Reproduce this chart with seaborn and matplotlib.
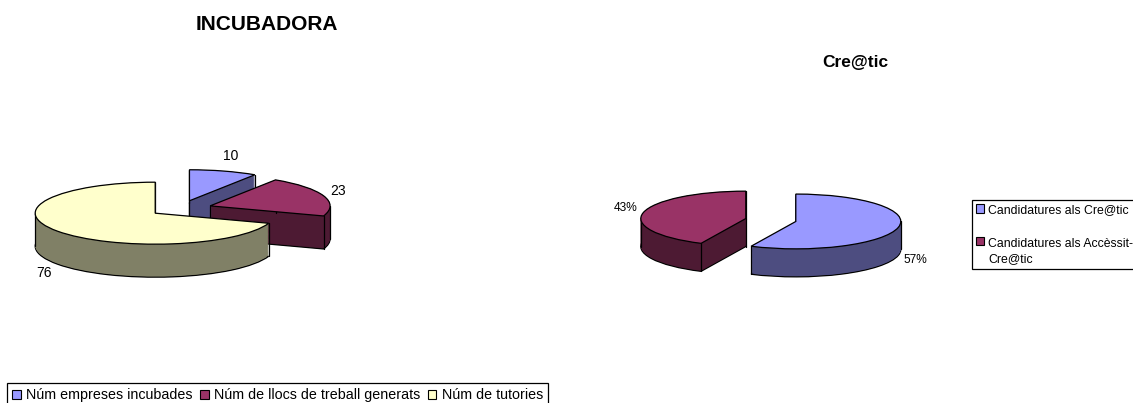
# -*- coding: utf-8 -*-
import matplotlib
matplotlib.use("Agg")
import matplotlib.pyplot as plt
import numpy as np
import seaborn as sns
from matplotlib.patches import Patch

incub_labels = ["Núm empreses incubades", "Núm de llocs de treball generats", "Núm de tutories"]
incub_values = [10, 23, 76]
cretic_labels = ["Candidatures als Cre@tic", "Candidatures als Accèssit-\nCre@tic"]
cretic_values = [57, 43]

top_colors = ["#9999FF", "#993366", "#FFFFCC"]
side_colors = ["#4D4D80", "#4D1A33", "#808066"]

W, H = 1133, 403

sns.set_theme(style="white")
plt.rcParams["font.family"] = ["Liberation Sans", "DejaVu Sans"]

fig = plt.figure(figsize=(W / 100, H / 100), dpi=100)


def pie_axes(cx, cy, rx, ry):
    # axes over the whole figure, one data unit = one pie radius
    ax = fig.add_axes([0, 0, 1, 1], facecolor="none")
    ax.lims = ((0 - cx) / rx, (W - cx) / rx), ((cy - H) / ry, cy / ry)
    return ax


def pie_3d(ax, values, explode, depth):
    # stacked pies going down, painted back to front
    n = len(values)
    kw = dict(explode=[explode] * n, startangle=90, counterclock=False)

    bottom = ax.pie(values, colors=side_colors, center=(0, -depth),
                    wedgeprops=dict(edgecolor="black", linewidth=0.9), **kw)[0]
    for i, w in enumerate(bottom):
        w.set_zorder(i * 10 + 1)

    for z in np.linspace(depth - 0.03, 0, 60):
        layer = ax.pie(values, colors=side_colors, center=(0, -z),
                       wedgeprops=dict(linewidth=0), **kw)[0]
        for i, w in enumerate(layer):
            w.set_zorder(i * 10 + 2)

    tops = ax.pie(values, colors=top_colors,
                  wedgeprops=dict(edgecolor="black", linewidth=0.9), **kw)[0]
    for i, w in enumerate(tops):
        w.set_zorder(i * 10 + 4)
        x0, y0 = w.center
        angles = [w.theta1, w.theta2]
        angles += [a for a in (-360, -180, 0, 180, 360) if w.theta1 < a < w.theta2]
        corners = [(x0 + np.cos(np.radians(a)), y0 + np.sin(np.radians(a))) for a in angles]
        # the centre edge only shows on slices under half a pie
        if w.theta2 - w.theta1 < 180:
            corners.append((x0, y0))
        for x, y in corners:
            ax.plot([x, x], [y, y - depth], color="black", lw=0.9, zorder=i * 10 + 3)

    ax.set_aspect("auto")
    ax.set_xlim(ax.lims[0])
    ax.set_ylim(ax.lims[1])
    ax.axis("off")
    return tops


ax1 = pie_axes(180.6, 208.5, 120, 31)
pie_3d(ax1, incub_values, 0.26, 33 / 31)

ax2 = pie_axes(770.8, 220, 105, 27.4)
pie_3d(ax2, cretic_values, 0.244, 28 / 27.4)


def px(x, y):
    return x / W, 1 - y / H


# titles
fig.text(*px(267, 24), "INCUBADORA", ha="center", va="center", fontsize=15, fontweight="bold", color="black")
fig.text(*px(855, 62), "Cre@tic", ha="center", va="center", fontsize=12.5, fontweight="bold", color="black")

# data labels
for pos, v in zip([(231, 156), (338, 191), (44, 273)], incub_values):
    fig.text(*px(*pos), str(v), ha="center", va="center", fontsize=10, color="black")
for pos, v in zip([(915, 260), (626, 208)], cretic_values):
    fig.text(*px(*pos), "%d%%" % v, ha="center", va="center", fontsize=8.6, color="black")

# legends
handles1 = [Patch(facecolor=c, edgecolor="black", linewidth=0.8) for c in top_colors]
leg1 = fig.legend(handles1, incub_labels, ncol=3, loc="upper left", bbox_to_anchor=px(7, 383),
                  bbox_transform=fig.transFigure, fontsize=10.25, fancybox=False, framealpha=1,
                  edgecolor="black", handlelength=0.6, handleheight=0.6, handletextpad=0.4,
                  columnspacing=0.5, borderpad=0.36, borderaxespad=0, labelcolor="black")
leg1.get_frame().set_linewidth(0.9)

handles2 = [Patch(facecolor=c, edgecolor="black", linewidth=0.8) for c in top_colors[:2]]
leg2 = fig.legend(handles2, cretic_labels, loc="upper left", bbox_to_anchor=px(972, 200),
                  bbox_transform=fig.transFigure, fontsize=8.8, fancybox=False, framealpha=1,
                  edgecolor="black", handlelength=0.67, handleheight=0.67, handletextpad=0.33,
                  labelspacing=1.85, borderpad=0.3, borderaxespad=0, labelcolor="black")
leg2.get_frame().set_linewidth(0.9)
for t in leg2.get_texts():
    t.set_linespacing(1.3)
# marker sits on the first line of the wrapped label
wrapped = leg2.legend_handles[1]
wrapped.set_y(wrapped.get_y() + 7.9)

fig.savefig("out.png", dpi=100, facecolor="white")
